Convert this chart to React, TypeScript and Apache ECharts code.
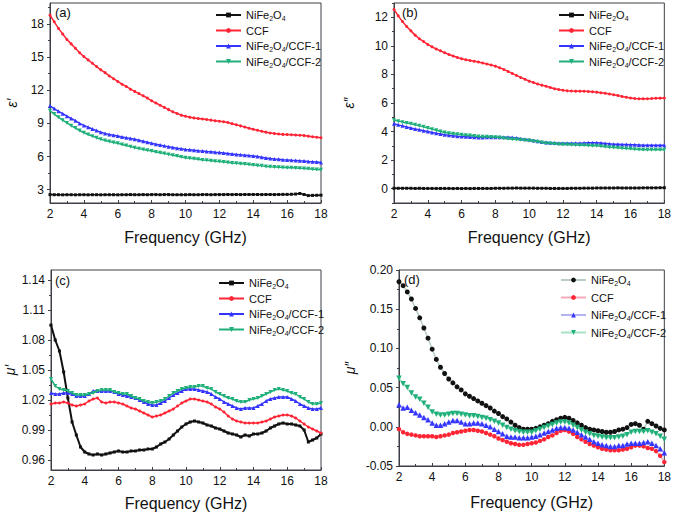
import React, { useEffect, useRef } from 'react';
import * as echarts from 'echarts';

const FONT = 'Liberation Sans, Arial, sans-serif';

const FREQ = [
  2, 2.25, 2.5, 2.75, 3, 3.25, 3.5, 3.75, 4, 4.25, 4.5, 4.75, 5, 5.25, 5.5, 5.75,
  6, 6.25, 6.5, 6.75, 7, 7.25, 7.5, 7.75, 8, 8.25, 8.5, 8.75, 9, 9.25, 9.5, 9.75,
  10, 10.25, 10.5, 10.75, 11, 11.25, 11.5, 11.75, 12, 12.25, 12.5, 12.75, 13, 13.25, 13.5, 13.75,
  14, 14.25, 14.5, 14.75, 15, 15.25, 15.5, 15.75, 16, 16.25, 16.5, 16.75, 17, 17.25, 17.5, 17.75, 18,
];

const LEGEND_LABELS = ['NiFe{s|2}O{s|4}', 'CCF', 'NiFe{s|2}O{s|4}/CCF-1', 'NiFe{s|2}O{s|4}/CCF-2'];
const X_TICKS = [2, 4, 6, 8, 10, 12, 14, 16, 18];

// (a) epsilon'
const A_NIFE = [
  2.56, 2.55, 2.55, 2.54, 2.55, 2.55, 2.54, 2.55, 2.55, 2.54, 2.55, 2.55, 2.54, 2.55, 2.55, 2.55,
  2.54, 2.55, 2.55, 2.56, 2.55, 2.55, 2.56, 2.55, 2.56, 2.56, 2.55, 2.56, 2.56, 2.55, 2.55, 2.55,
  2.55, 2.56, 2.55, 2.55, 2.56, 2.56, 2.55, 2.56, 2.56, 2.56, 2.57, 2.56, 2.57, 2.56, 2.57, 2.57,
  2.57, 2.57, 2.56, 2.57, 2.57, 2.56, 2.57, 2.58, 2.58, 2.59, 2.61, 2.66, 2.57, 2.47, 2.49, 2.5, 2.51,
];
const A_CCF = [
  18.8, 18.2, 17.6, 17.1, 16.6, 16.2, 15.8, 15.4, 15.05, 14.75, 14.45, 14.15, 13.85, 13.6, 13.3, 13.05,
  12.8, 12.55, 12.35, 12.1, 11.9, 11.7, 11.5, 11.3, 11.05, 10.85, 10.65, 10.45, 10.25, 10.05, 9.9, 9.75,
  9.65, 9.57, 9.5, 9.45, 9.4, 9.35, 9.3, 9.25, 9.2, 9.15, 9.08, 8.98, 8.88, 8.78, 8.68, 8.57,
  8.47, 8.38, 8.29, 8.21, 8.14, 8.08, 8.04, 8.01, 7.99, 7.97, 7.95, 7.93, 7.9, 7.85, 7.8, 7.75, 7.7,
];
const A_CCF1 = [
  10.6, 10.35, 10.1, 9.88, 9.66, 9.45, 9.25, 9.0, 8.82, 8.65, 8.5, 8.35, 8.2, 8.1, 8.0, 7.93,
  7.86, 7.78, 7.7, 7.63, 7.56, 7.47, 7.38, 7.29, 7.2, 7.12, 7.05, 6.97, 6.9, 6.83, 6.76, 6.7,
  6.65, 6.61, 6.57, 6.53, 6.5, 6.46, 6.43, 6.39, 6.36, 6.32, 6.28, 6.24, 6.2, 6.16, 6.13, 6.09,
  6.06, 6.0, 5.94, 5.88, 5.82, 5.78, 5.75, 5.72, 5.7, 5.67, 5.65, 5.62, 5.6, 5.56, 5.53, 5.5, 5.46,
];
const A_CCF2 = [
  10.15, 9.85, 9.55, 9.3, 9.05, 8.8, 8.58, 8.36, 8.16, 8.0, 7.85, 7.7, 7.56, 7.46, 7.37, 7.28,
  7.2, 7.1, 7.0, 6.9, 6.8, 6.72, 6.65, 6.57, 6.5, 6.42, 6.35, 6.27, 6.2, 6.12, 6.05, 5.97,
  5.9, 5.85, 5.8, 5.75, 5.7, 5.66, 5.62, 5.58, 5.55, 5.51, 5.47, 5.43, 5.4, 5.36, 5.32, 5.28,
  5.25, 5.2, 5.16, 5.11, 5.07, 5.05, 5.03, 5.01, 5.0, 4.98, 4.96, 4.94, 4.92, 4.89, 4.86, 4.83, 4.8,
];

// (b) epsilon''
const B_NIFE = [
  0.03, 0.03, 0.03, 0.03, 0.03, 0.02, 0.03, 0.02, 0.02, 0.02, 0.02, 0.02, 0.02, 0.02, 0.01, 0.02,
  0.01, 0.02, 0.01, 0.02, 0.02, 0.02, 0.02, 0.02, 0.03, 0.03, 0.03, 0.04, 0.04, 0.05, 0.04, 0.04,
  0.04, 0.04, 0.03, 0.03, 0.03, 0.02, 0.02, 0.02, 0.02, 0.02, 0.03, 0.03, 0.03, 0.04, 0.04, 0.04,
  0.05, 0.05, 0.05, 0.05, 0.05, 0.06, 0.05, 0.05, 0.05, 0.05, 0.05, 0.06, 0.06, 0.06, 0.06, 0.07, 0.07,
];
const B_CCF = [
  12.55, 12.1, 11.7, 11.35, 11.05, 10.75, 10.5, 10.3, 10.1, 9.93, 9.78, 9.65, 9.52, 9.4, 9.29, 9.19,
  9.1, 9.03, 8.97, 8.92, 8.87, 8.8, 8.73, 8.66, 8.58, 8.47, 8.35, 8.21, 8.07, 7.93, 7.79, 7.66,
  7.53, 7.43, 7.33, 7.25, 7.17, 7.08, 7.0, 6.94, 6.89, 6.86, 6.84, 6.83, 6.83, 6.82, 6.81, 6.79,
  6.76, 6.72, 6.68, 6.63, 6.58, 6.52, 6.46, 6.4, 6.35, 6.31, 6.29, 6.29, 6.3, 6.31, 6.33, 6.34, 6.35,
];
const B_CCF1 = [
  4.55, 4.47, 4.4, 4.32, 4.25, 4.18, 4.12, 4.06, 4.0, 3.94, 3.88, 3.83, 3.78, 3.74, 3.71, 3.68,
  3.66, 3.64, 3.62, 3.6, 3.59, 3.59, 3.6, 3.6, 3.61, 3.61, 3.61, 3.6, 3.59, 3.55, 3.5, 3.46,
  3.43, 3.38, 3.32, 3.27, 3.24, 3.21, 3.2, 3.19, 3.19, 3.19, 3.19, 3.19, 3.19, 3.2, 3.21, 3.22,
  3.22, 3.2, 3.17, 3.14, 3.12, 3.11, 3.1, 3.09, 3.08, 3.07, 3.06, 3.05, 3.05, 3.05, 3.05, 3.05, 3.05,
];
const B_CCF2 = [
  4.8, 4.73, 4.66, 4.6, 4.55, 4.48, 4.4, 4.33, 4.25, 4.17, 4.09, 4.01, 3.94, 3.89, 3.85, 3.81,
  3.78, 3.75, 3.72, 3.69, 3.66, 3.64, 3.63, 3.62, 3.61, 3.58, 3.54, 3.5, 3.47, 3.45, 3.42, 3.4,
  3.38, 3.33, 3.28, 3.23, 3.19, 3.16, 3.14, 3.12, 3.1, 3.09, 3.08, 3.06, 3.05, 3.04, 3.03, 3.01,
  3.0, 2.97, 2.94, 2.91, 2.89, 2.86, 2.84, 2.81, 2.79, 2.77, 2.75, 2.73, 2.72, 2.72, 2.72, 2.72, 2.72,
];

// (c) mu'
const C_NIFE = [
  1.095, 1.08, 1.069, 1.048, 1.022, 0.998, 0.985, 0.973, 0.968, 0.966, 0.965, 0.966, 0.965, 0.966, 0.967, 0.968,
  0.969, 0.968, 0.968, 0.969, 0.969, 0.97, 0.97, 0.971, 0.971, 0.973, 0.976, 0.978, 0.981, 0.985, 0.989, 0.993,
  0.996, 0.998, 0.999, 0.998, 0.997, 0.995, 0.994, 0.992, 0.991, 0.989, 0.987, 0.986, 0.985, 0.983, 0.985, 0.984,
  0.986, 0.986, 0.987, 0.989, 0.992, 0.994, 0.996, 0.997, 0.996, 0.996, 0.995, 0.994, 0.99, 0.978, 0.98, 0.982, 0.986,
];
const C_CCF = [
  1.016, 1.017, 1.017, 1.018, 1.017, 1.015, 1.014, 1.015, 1.016, 1.019, 1.021, 1.022, 1.018, 1.017, 1.018, 1.018,
  1.017, 1.016, 1.014, 1.012, 1.011, 1.009, 1.007, 1.005, 1.003, 1.004, 1.005, 1.007, 1.009, 1.011, 1.014, 1.017,
  1.019, 1.021, 1.021, 1.02, 1.019, 1.018, 1.016, 1.013, 1.011, 1.008, 1.004, 1.001, 0.999, 0.998, 0.997, 0.997,
  0.997, 0.997, 0.998, 0.999, 1.001, 1.003, 1.004, 1.005, 1.005, 1.004, 1.002, 0.999, 0.996, 0.993, 0.991, 0.989, 0.987,
];
const C_CCF1 = [
  1.027, 1.026, 1.026, 1.027, 1.027, 1.026, 1.024, 1.024, 1.024, 1.026, 1.029, 1.029, 1.029, 1.029, 1.029, 1.028,
  1.026, 1.025, 1.024, 1.023, 1.022, 1.02, 1.018, 1.016, 1.015, 1.015, 1.017, 1.019, 1.022, 1.025, 1.027, 1.029,
  1.031, 1.031, 1.031, 1.03, 1.029, 1.028, 1.026, 1.023, 1.021, 1.018, 1.016, 1.014, 1.012, 1.011, 1.012, 1.012,
  1.012, 1.014, 1.016, 1.019, 1.021, 1.022, 1.023, 1.023, 1.023, 1.021, 1.019, 1.016, 1.014, 1.012, 1.011, 1.011, 1.012,
];
const C_CCF2 = [
  1.041, 1.034, 1.031, 1.03, 1.029, 1.027, 1.025, 1.025, 1.025, 1.026, 1.027, 1.029, 1.03, 1.03, 1.03, 1.028,
  1.027, 1.026, 1.026, 1.024, 1.022, 1.021, 1.019, 1.018, 1.017, 1.018, 1.019, 1.021, 1.024, 1.027, 1.029, 1.031,
  1.032, 1.033, 1.033, 1.034, 1.034, 1.032, 1.031, 1.028, 1.026, 1.024, 1.022, 1.021, 1.019, 1.018, 1.018, 1.02,
  1.021, 1.022, 1.024, 1.026, 1.028, 1.03, 1.031, 1.03, 1.029, 1.027, 1.026, 1.023, 1.021, 1.018, 1.016, 1.016, 1.017,
];

// (d) mu''
const D_NIFE = [
  0.185, 0.18, 0.172, 0.163, 0.151, 0.139, 0.126, 0.113, 0.099, 0.086, 0.076, 0.068, 0.061, 0.056, 0.051, 0.047,
  0.042, 0.039, 0.036, 0.033, 0.03, 0.027, 0.024, 0.02, 0.017, 0.013, 0.01, 0.006, 0.002, -0.001, -0.003, -0.003,
  -0.003, -0.002, 0.0, 0.002, 0.004, 0.007, 0.009, 0.011, 0.012, 0.011, 0.008, 0.005, 0.002, -0.001, -0.003, -0.004,
  -0.005, -0.006, -0.007, -0.007, -0.006, -0.004, -0.003, -0.001, 0.003, 0.004, 0.002, -0.003, 0.007, 0.004, 0.001, -0.002, -0.004,
];
const D_CCF = [
  -0.003, -0.007, -0.009, -0.01, -0.011, -0.012, -0.012, -0.012, -0.012, -0.013, -0.012, -0.011, -0.01, -0.008, -0.007, -0.006,
  -0.005, -0.004, -0.004, -0.005, -0.006, -0.008, -0.01, -0.012, -0.015, -0.017, -0.019, -0.021, -0.022, -0.023, -0.023, -0.022,
  -0.021, -0.02, -0.018, -0.016, -0.013, -0.011, -0.008, -0.005, -0.004, -0.006, -0.009, -0.013, -0.016, -0.019, -0.022, -0.024,
  -0.026, -0.028, -0.029, -0.03, -0.03, -0.03, -0.029, -0.028, -0.026, -0.024, -0.024, -0.025, -0.027, -0.028, -0.031, -0.037, -0.045,
];
const D_CCF1 = [
  0.028, 0.024, 0.025, 0.021, 0.018, 0.015, 0.012, 0.009, 0.005, 0.002, 0.002, 0.004, 0.006, 0.008, 0.008, 0.006,
  0.004, 0.004, 0.005, 0.005, 0.004, 0.002, 0.0, -0.003, -0.006, -0.009, -0.012, -0.013, -0.013, -0.014, -0.014, -0.014,
  -0.013, -0.012, -0.01, -0.008, -0.006, -0.004, -0.002, -0.001, -0.001, -0.002, -0.004, -0.007, -0.01, -0.013, -0.016, -0.019,
  -0.021, -0.023, -0.024, -0.025, -0.025, -0.024, -0.024, -0.022, -0.021, -0.021, -0.021, -0.02, -0.019, -0.021, -0.024, -0.028, -0.033,
];
const D_CCF2 = [
  0.062, 0.055, 0.05, 0.043, 0.038, 0.035, 0.03, 0.025, 0.019, 0.016, 0.015, 0.015, 0.016, 0.017, 0.017, 0.016,
  0.015, 0.014, 0.014, 0.013, 0.012, 0.011, 0.009, 0.007, 0.005, 0.002, -0.001, -0.003, -0.005, -0.006, -0.007, -0.007,
  -0.007, -0.005, -0.003, -0.001, 0.001, 0.003, 0.005, 0.006, 0.006, 0.005, 0.002, -0.001, -0.004, -0.007, -0.009, -0.011,
  -0.012, -0.013, -0.014, -0.014, -0.014, -0.013, -0.012, -0.01, -0.007, -0.006, -0.006, -0.006, -0.005, -0.007, -0.009, -0.012, -0.016,
];

// axis tick values
const A_Y_MAJOR = [3, 6, 9, 12, 15, 18];
const A_Y_MINOR = [4.5, 7.5, 10.5, 13.5, 16.5, 19.5];
const B_Y_MAJOR = [0, 2, 4, 6, 8, 10, 12];
const B_Y_MINOR = [-1, 1, 3, 5, 7, 9, 11, 13];
const C_Y_MAJOR = [0.96, 0.99, 1.02, 1.05, 1.08, 1.11, 1.14];
const C_Y_MINOR = [0.975, 1.005, 1.035, 1.065, 1.095, 1.125];
const D_Y_MAJOR = [-0.05, 0, 0.05, 0.1, 0.15, 0.2];
const D_Y_MINOR = [-0.025, 0.025, 0.075, 0.125, 0.175];

const COLORS = ['#111111', '#ff2535', '#3535ff', '#1fb07a'];
const PALE = ['#b9cccc', '#f6aabb', '#b3b3f2', '#a5e2c6'];
const SYMBOLS = ['rect', 'circle', 'triangle', 'triangle'];
const SYMBOLS_D = ['circle', 'circle', 'triangle', 'triangle'];
const ROT = [0, 0, 0, 180];

const AXIS_COLOR = '#3c4046';

const GRIDS = [
  { left: 50, top: 3, width: 271, height: 200 },
  { left: 394, top: 3, width: 271, height: 200 },
  { left: 51, top: 270, width: 270, height: 200 },
  { left: 399, top: 270, width: 266, height: 196 },
];

function xAxis(g: number, gap: number) {
  return {
    type: 'value', gridIndex: g, min: 2, max: 18, interval: 2,
    name: 'Frequency (GHz)', nameLocation: 'middle', nameGap: gap,
    nameTextStyle: { fontSize: 16, color: '#111', fontFamily: FONT },
    axisLine: { show: true, onZero: false, lineStyle: { color: AXIS_COLOR, width: 1 } },
    axisTick: { show: true, inside: true, length: 3, lineStyle: { color: AXIS_COLOR } },
    minorTick: { show: true, splitNumber: 2, length: 2, lineStyle: { color: AXIS_COLOR } },
    axisLabel: { fontSize: 12, color: '#111', fontFamily: FONT, margin: 5, customValues: X_TICKS },
    splitLine: { show: false },
  };
}

function yAxes(g: number, min: number, max: number, major: number[], minor: number[], name: string, gap: number, digits: number) {
  return [
    {
      type: 'value', gridIndex: g, min, max,
      name, nameLocation: 'middle', nameGap: gap, nameRotate: 90,
      nameTextStyle: { fontSize: 14, fontStyle: 'italic', color: '#111', fontFamily: FONT },
      axisLine: { show: true, onZero: false, lineStyle: { color: AXIS_COLOR, width: 1 } },
      axisTick: { show: true, inside: false, length: 3, customValues: major, lineStyle: { color: AXIS_COLOR } },
      axisLabel: {
        fontSize: 12, color: '#111', fontFamily: FONT, margin: 6, customValues: major,
        formatter: (v: number) => v.toFixed(digits),
      },
      splitLine: { show: false },
    },
    {
      type: 'value', gridIndex: g, min, max, position: 'left',
      axisLine: { show: false },
      axisTick: { show: true, inside: false, length: 2, customValues: minor, lineStyle: { color: AXIS_COLOR } },
      axisLabel: { show: false },
      splitLine: { show: false },
    },
  ];
}

function series(p: number, prefix: string, data: number[][], pale: boolean) {
  return data.map((vals, k) => ({
    type: 'line',
    name: prefix + k,
    xAxisIndex: p,
    yAxisIndex: p * 2,
    data: FREQ.map((f, i) => [f, vals[i]]),
    symbol: pale ? SYMBOLS_D[k] : SYMBOLS[k],
    symbolRotate: ROT[k],
    symbolSize: pale ? (k === 0 ? 5 : k === 1 ? 4.5 : 5.5) : (k >= 2 ? 4 : 3),
    showSymbol: true,
    lineStyle: { color: pale ? PALE[k] : COLORS[k], width: !pale && p === 2 && k === 0 ? 2 : 1.5 },
    itemStyle: { color: COLORS[k] },
    z: 2 + k,
  }));
}

function legend(prefix: string, left: number, top: number, gap: number) {
  return {
    data: [0, 1, 2, 3].map((k) => prefix + k),
    orient: 'vertical', left, top, padding: 0, itemWidth: 25, itemHeight: 6, itemGap: gap,
    selectedMode: false,
    formatter: (n: string) => LEGEND_LABELS[Number(n.slice(1))],
    textStyle: {
      fontSize: 11, color: '#111', fontFamily: FONT, lineHeight: 14,
      rich: { s: { fontSize: 7, fontFamily: FONT, color: '#111', lineHeight: 14, verticalAlign: 'bottom' } },
    },
  };
}

function panelLabel(text: string, left: number, top: number) {
  return { type: 'text', left, top, style: { text, fontSize: 13, fill: '#111', fontFamily: FONT } };
}

export default function App() {
  const ref = useRef<HTMLDivElement>(null);
  useEffect(() => {
    if (!ref.current) return;
    const chart = echarts.init(ref.current, null, { renderer: 'svg' });
    chart.setOption({
      animation: false,
      backgroundColor: '#ffffff',
      grid: GRIDS.map((g) => ({ ...g, show: true, borderColor: AXIS_COLOR, borderWidth: 1, backgroundColor: 'transparent' })),
      xAxis: [xAxis(0, 26), xAxis(1, 26), xAxis(2, 25), xAxis(3, 28)],
      yAxis: [
        ...yAxes(0, 1.8, 19.9, A_Y_MAJOR, A_Y_MINOR, 'ε′', 31, 0),
        ...yAxes(1, -1, 13, B_Y_MAJOR, B_Y_MINOR, 'ε″', 38, 0),
        ...yAxes(2, 0.95, 1.15, C_Y_MAJOR, C_Y_MINOR, 'μ′', 34, 2),
        ...yAxes(3, -0.05, 0.2, D_Y_MAJOR, D_Y_MINOR, 'μ″', 42, 2),
      ],
      legend: [
        legend('a', 215, 8, 1.5),
        legend('b', 558, 8, 1.5),
        legend('c', 218, 276, 1.5),
        legend('d', 560, 273, 3.5),
      ],
      graphic: [
        panelLabel('(a)', 55, 6),
        panelLabel('(b)', 402, 6),
        panelLabel('(c)', 55, 274),
        panelLabel('(d)', 404, 273),
      ],
      series: [
        ...series(0, 'a', [A_NIFE, A_CCF, A_CCF1, A_CCF2], false),
        ...series(1, 'b', [B_NIFE, B_CCF, B_CCF1, B_CCF2], false),
        ...series(2, 'c', [C_NIFE, C_CCF, C_CCF1, C_CCF2], false),
        ...series(3, 'd', [D_NIFE, D_CCF, D_CCF1, D_CCF2], true),
      ],
    });
    return () => chart.dispose();
  }, []);
  return <div ref={ref} style={{ position: 'absolute', left: 0, top: 0, width: 674, height: 517 }} />;
}
